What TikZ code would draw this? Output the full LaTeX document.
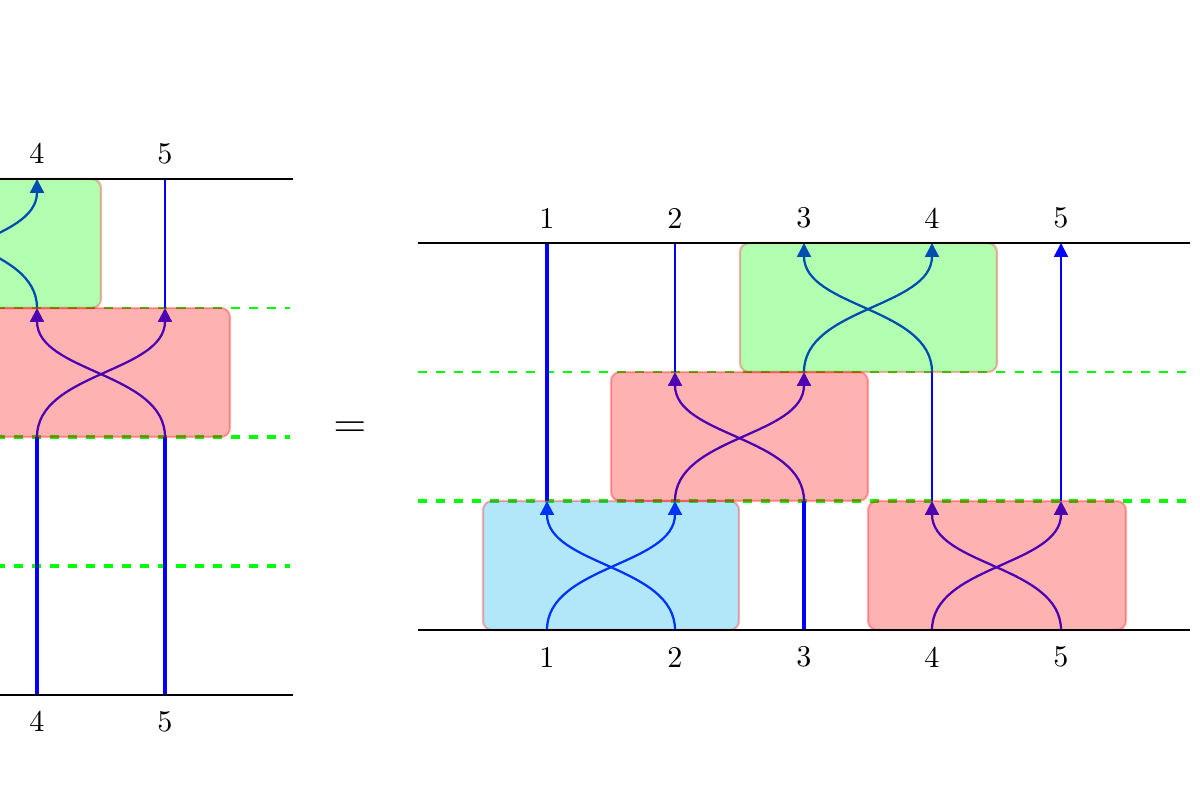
\documentclass[tikz,border=0pt]{standalone}
\usetikzlibrary{arrows.meta,calc,fit}
\definecolor{boxcyan}{RGB}{0,174,239}
\tikzset{
  strand/.style={blue, line width=0.65pt},
  thickstrand/.style={blue, line width=1.05pt},
  cross/.style={blue, line width=0.75pt},
  tip/.style={-{Triangle[length=4.6pt,width=4.6pt]}},
  rail/.style={black, line width=0.6pt},
  sep/.style={green, dashed, line width=0.6pt},
  septhick/.style={green, dashed, line width=1.2pt},
  gate/.style={draw=red, rounded corners=3pt, opacity=0.3, line width=0.7pt, inner sep=0pt},
  lab/.style={font=\normalsize, inner sep=0pt}
}
\begin{document}
\begin{tikzpicture}[x=0.33194pt, y=-0.33194pt]
\useasboundingbox (0,0) rectangle (1200,800);
\clip (0,0) rectangle (1200,800);
% ---------- coordinates: left diagram (levels 0..4, from bottom) ----------
\foreach \i/\x in {1/-349,2/-220,3/-92,4/37,5/165}{
  \foreach \j/\y in {0/695,1/566,2/437,3/308,4/179}{
    \coordinate (L\i-\j) at (\x,\y);
  }
}
% ---------- coordinates: right diagram (levels 0..3) ----------
\foreach \i/\x in {1/547,2/675,3/804,4/932,5/1061}{
  \foreach \j/\y in {0/630,1/501,2/372,3/243}{
    \coordinate (R\i-\j) at (\x,\y);
  }
}
\coordinate (Lleft) at (-420,0);
\coordinate (Lright) at (293,0);
\coordinate (Rleft) at (418,0);
\coordinate (Rright) at (1190,0);
\coordinate (Rdash) at (1186,0);
\coordinate (Ldash) at (290,0);

% ================= LEFT DIAGRAM =================
\draw[sep] (Lleft |- L4-3) -- (Ldash |- L4-3);
\draw[septhick] (Lleft |- L4-2) -- (Ldash |- L4-2);
\draw[septhick] (Lleft |- L4-1) -- (Ldash |- L4-1);
\draw[thickstrand] (L4-0) -- (L4-2);
\draw[thickstrand] (L5-0) -- (L5-2);
\draw[cross, tip] (L4-2) .. controls ($(L4-2)!0.5!(L4-3)$) and ($(L5-2)!0.5!(L5-3)$) .. (L5-3);
\draw[cross, tip] (L5-2) .. controls ($(L5-2)!0.5!(L5-3)$) and ($(L4-2)!0.5!(L4-3)$) .. (L4-3);
\draw[strand] (L5-3) -- (L5-4);
\draw[cross, tip] (L3-3) .. controls ($(L3-3)!0.5!(L3-4)$) and ($(L4-3)!0.5!(L4-4)$) .. (L4-4);
\draw[cross, tip] (L4-3) .. controls ($(L4-3)!0.5!(L4-4)$) and ($(L3-3)!0.5!(L3-4)$) .. (L3-4);
\node[gate, fill=red, fit={(-27,308) (230,437)}] (Lred) {};
\node[gate, fill=green, fit={(-156,179) (101,308)}] (Lgreen) {};
\draw[rail] (Lleft |- L4-4) -- (Lright |- L4-4);
\draw[rail] (Lleft |- L4-0) -- (Lright |- L4-0);
\node[lab] (Lt4) at ([yshift=8.5pt]L4-4) {4};
\node[lab] (Lt5) at ([yshift=8.5pt]L5-4) {5};
\node[lab] (Lb4) at ([yshift=-8.8pt]L4-0) {4};
\node[lab] (Lb5) at ([yshift=-8.8pt]L5-0) {5};

% equals sign
\node[font=\Large, inner sep=0pt] (eq) at (350,430) {$=$};

% ================= RIGHT DIAGRAM =================
\draw[sep] (Rleft |- R1-2) -- (Rdash |- R1-2);
\draw[septhick] (Rleft |- R1-1) -- (Rdash |- R1-1);
% level 0 -> 1
\draw[cross, tip] (R1-0) .. controls ($(R1-0)!0.5!(R1-1)$) and ($(R2-0)!0.5!(R2-1)$) .. (R2-1);
\draw[cross, tip] (R2-0) .. controls ($(R2-0)!0.5!(R2-1)$) and ($(R1-0)!0.5!(R1-1)$) .. (R1-1);
\draw[thickstrand] (R3-0) -- (R3-1);
\draw[cross, tip] (R4-0) .. controls ($(R4-0)!0.5!(R4-1)$) and ($(R5-0)!0.5!(R5-1)$) .. (R5-1);
\draw[cross, tip] (R5-0) .. controls ($(R5-0)!0.5!(R5-1)$) and ($(R4-0)!0.5!(R4-1)$) .. (R4-1);
% level 1 -> 2
\draw[thickstrand] (R1-1) -- (R1-3);
\draw[cross, tip] (R2-1) .. controls ($(R2-1)!0.5!(R2-2)$) and ($(R3-1)!0.5!(R3-2)$) .. (R3-2);
\draw[cross, tip] (R3-1) .. controls ($(R3-1)!0.5!(R3-2)$) and ($(R2-1)!0.5!(R2-2)$) .. (R2-2);
\draw[strand] (R4-1) -- (R4-2);
\draw[strand, tip] (R5-1) -- (R5-3);
% level 2 -> 3
\draw[strand] (R2-2) -- (R2-3);
\draw[cross, tip] (R3-2) .. controls ($(R3-2)!0.5!(R3-3)$) and ($(R4-2)!0.5!(R4-3)$) .. (R4-3);
\draw[cross, tip] (R4-2) .. controls ($(R4-2)!0.5!(R4-3)$) and ($(R3-2)!0.5!(R3-3)$) .. (R3-3);
% gates
\node[gate, fill=boxcyan, fit={(483,501) (739,630)}] (Rblue) {};
\node[gate, fill=red, fit={(868,501) (1126,630)}] (Rred1) {};
\node[gate, fill=red, fit={(611,372) (868,501)}] (Rred2) {};
\node[gate, fill=green, fit={(740,243) (997,372)}] (Rgreen) {};
% rails
\draw[rail] (Rleft |- R1-3) -- (Rright |- R1-3);
\draw[rail] (Rleft |- R1-0) -- (Rright |- R1-0);
% labels
\foreach \i in {1,...,5}{
  \node[lab] (Rt\i) at ([yshift=8.3pt]R\i-3) {\i};
  \node[lab] (Rb\i) at ([yshift=-9pt]R\i-0) {\i};
}
\end{tikzpicture}
\end{document}
